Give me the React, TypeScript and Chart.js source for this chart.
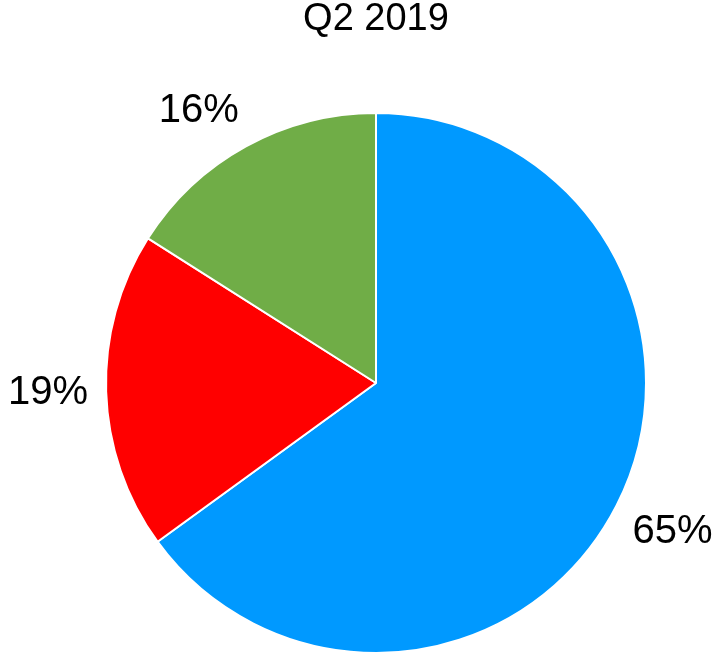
import React, { useEffect, useRef } from "react";
import { Chart, registerables } from "chart.js";

Chart.register(...registerables);

const title = "Q2 2019";
const categories = ["Category 1", "Category 2", "Category 3"];
const values = [65, 19, 16];
const valueLabels = ["65%", "19%", "16%"];
const colors = ["#0099FF", "#FF0000", "#70AD47"];

const FONT = "'Liberation Sans', Arial, sans-serif";
const LABEL_SIZE = 40;

const clamp = (v: number) => Math.max(-1, Math.min(1, v));

const outsideLabels = {
  id: "outsideLabels",
  afterDatasetsDraw(chart: any) {
    const ctx = chart.ctx;
    const meta = chart.getDatasetMeta(0);
    ctx.save();
    ctx.font = `${LABEL_SIZE}px ${FONT}`;
    ctx.fillStyle = "#000000";
    ctx.textAlign = "center";
    ctx.textBaseline = "middle";
    meta.data.forEach((arc: any, i: number) => {
      const p = arc.getProps(["x", "y", "startAngle", "endAngle", "outerRadius"], true);
      const mid = (p.startAngle + p.endAngle) / 2;
      const c = Math.cos(mid);
      const s = Math.sin(mid);
      const r = p.outerRadius + 18;
      const hw = ctx.measureText(valueLabels[i]).width / 2;
      const hh = LABEL_SIZE / 2;
      const x = p.x + c * r + hw * clamp(c * 2);
      const y = p.y + s * r + hh * clamp(s * 2);
      ctx.fillText(valueLabels[i], x, y);
    });
    ctx.restore();
  },
};

export default function App() {
  const ref = useRef<HTMLCanvasElement | null>(null);
  useEffect(() => {
    if (!ref.current) return;
    const chart = new Chart(ref.current, {
      type: "pie",
      data: {
        labels: categories,
        datasets: [
          {
            data: values,
            backgroundColor: colors,
            borderColor: "#FFFFFF",
            borderWidth: 2,
          },
        ],
      },
      options: {
        animation: false,
        responsive: false,
        maintainAspectRatio: false,
        layout: { padding: { left: 37, right: 0, top: 0, bottom: 1 } },
        plugins: {
          legend: { display: false },
          tooltip: { enabled: false },
          title: {
            display: true,
            text: title,
            color: "#000000",
            font: { size: 38, family: FONT, weight: "normal", lineHeight: 1.05 },
            padding: { top: 0, bottom: 72.1 },
          },
        },
      },
      plugins: [outsideLabels],
    });
    return () => chart.destroy();
  }, []);
  return (
    <div style={{ position: "fixed", left: 0, top: 0, width: 715, height: 655, background: "#fff" }}>
      <canvas ref={ref} width={715} height={655} style={{ width: 715, height: 655, display: "block" }} />
    </div>
  );
}
